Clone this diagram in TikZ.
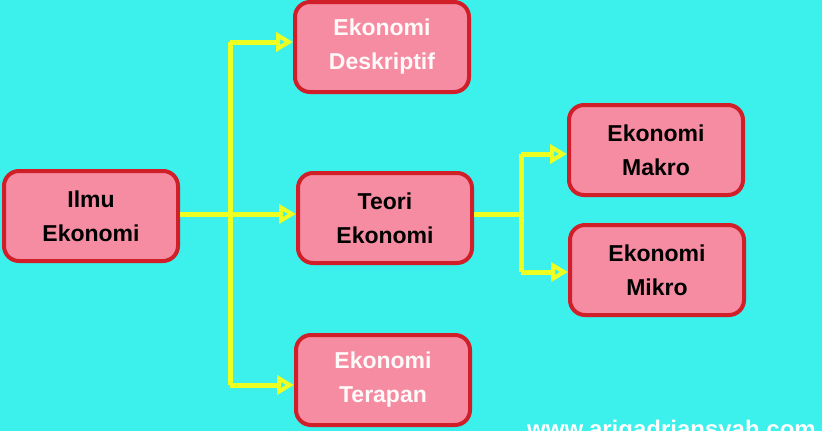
\documentclass[tikz,border=0pt]{standalone}
\usepackage{fontspec}
\setmainfont{Liberation Sans}
\usetikzlibrary{arrows.meta}
\definecolor{bgc}{HTML}{3CF0EC}
\definecolor{boxfill}{HTML}{F58CA2}
\definecolor{boxline}{HTML}{D11F2A}
\definecolor{conn}{HTML}{EEFF22}
\begin{document}
\begin{tikzpicture}[x=1pt,y=-1pt,
  ebox/.style={draw=boxline,fill=boxfill,line width=4pt,rounded corners=15pt,
    minimum width=#1,minimum height=90pt,inner sep=0pt,align=center,
    font=\fontsize{23}{34}\selectfont\bfseries},
  ebox/.default=174pt,
  wtext/.style={text=white!92!pink},
  conline/.style={draw=conn,line width=5pt},
  conarrow/.style={conline,-{Triangle[open,length=17pt,width=19pt,line width=4pt]}}]
\useasboundingbox (0,0) rectangle (822,431);
\fill[bgc] (0,0) rectangle (822,431);
\node[ebox] (ilmu) at (91,216) {Ilmu\\Ekonomi};
\node[ebox,wtext] (desk) at (382,47) {Ekonomi\\Deskriptif};
\node[ebox] (teori) at (385,218) {Teori\\Ekonomi};
\node[ebox,wtext] (terap) at (383,380) {Ekonomi\\Terapan};
\node[ebox] (makro) at (656,150) {Ekonomi\\Makro};
\node[ebox] (mikro) at (657,270) {Ekonomi\\Mikro};
\coordinate (j1top) at (230,42);
\coordinate (j1mid) at (230,214);
\coordinate (j1bot) at (230,385);
\coordinate (j2top) at (521,154);
\coordinate (j2mid) at (521,214);
\coordinate (j2bot) at (521,272);
\draw[conline] (j1top) -- (j1bot);
\draw[conarrow] (ilmu.east |- j1mid) -- (teori.west |- j1mid);
\draw[conarrow] (j1top) -- (desk.west |- j1top);
\draw[conarrow] (j1bot) -- (terap.west |- j1bot);
\draw[conline] (j2top) -- (j2bot);
\draw[conline] (teori.east |- j2mid) -- (j2mid);
\draw[conarrow] (j2top) -- (makro.west |- j2top);
\draw[conarrow] (j2bot) -- (mikro.west |- j2bot);
\node[anchor=base west,inner sep=0pt,text=white,font=\fontsize{24}{28}\selectfont\bfseries] (wm) at (527,437) {www.arigadriansyah.com};
\end{tikzpicture}
\end{document}
